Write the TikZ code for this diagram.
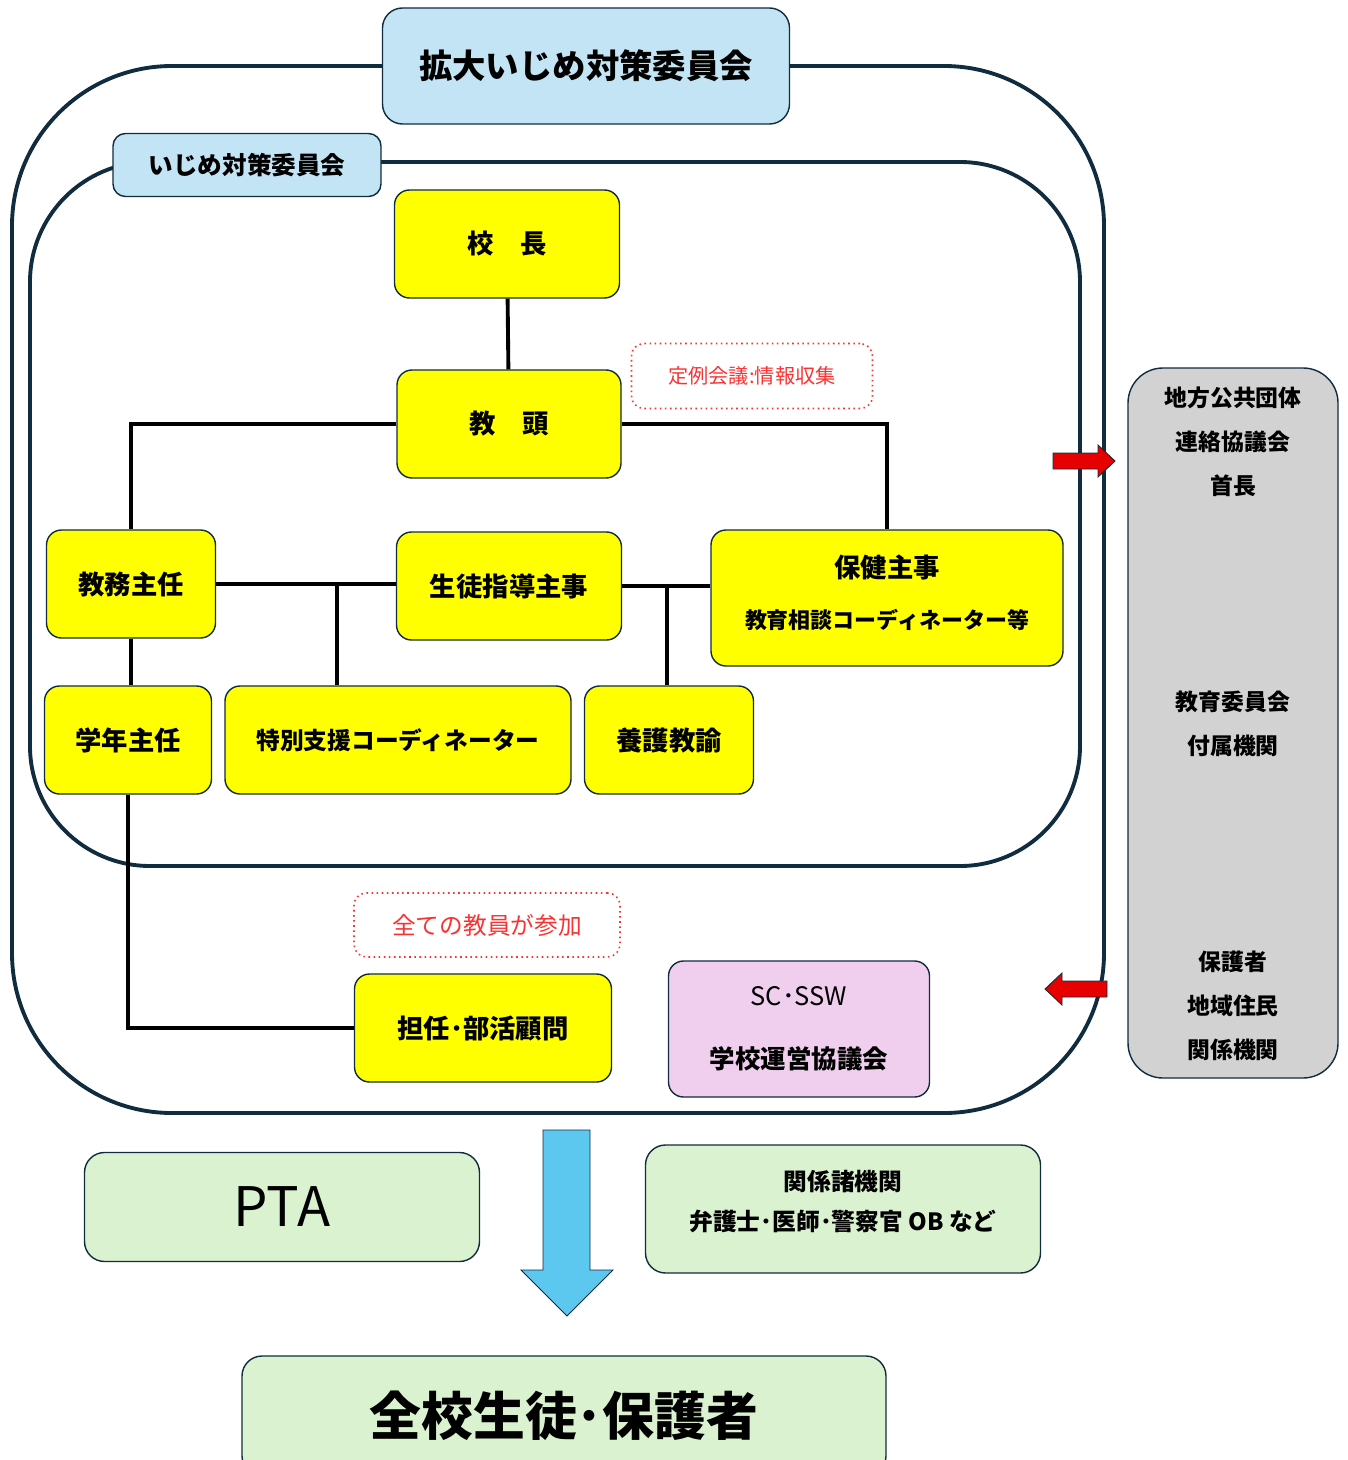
\documentclass[tikz,border=0pt]{standalone}
\usepackage{fontspec}
\setmainfont{Noto Sans CJK JP}
\usetikzlibrary{calc}

\definecolor{navy}{RGB}{16,44,62}
\definecolor{paleblue}{RGB}{194,228,244}
\definecolor{boxyellow}{RGB}{255,255,0}
\definecolor{palepink}{RGB}{240,206,238}
\definecolor{panelgray}{RGB}{210,210,210}
\definecolor{palegreen}{RGB}{218,242,208}
\definecolor{notered}{RGB}{250,50,50}
\definecolor{arrowred}{RGB}{230,0,0}
\definecolor{arrowblue}{RGB}{92,200,240}

\tikzset{
	frame/.style={draw=navy, line width=2.2pt},
	box/.style={draw=navy, line width=0.8pt, rounded corners=0.3cm, inner sep=0pt},
	posbox/.style={box, fill=boxyellow, font=\fontsize{15}{18}\selectfont\bfseries},
	titlebox/.style={box, fill=paleblue},
	greenbox/.style={box, fill=palegreen, rounded corners=0.4cm},
	notebox/.style={draw=notered, dotted, line width=0.9pt, rounded corners=0.25cm, text=notered},
	link/.style={line width=2.2pt, black},
	sz/.style 2 args={minimum width=#1*0.02cm, minimum height=#2*0.02cm},
}

\begin{document}
\begin{tikzpicture}[x=0.02cm, y=-0.02cm]
			%%%%% START %%%%%
			\useasboundingbox (0,0) rectangle (1347,1460);
			
			% committee frames
			\draw[frame, rounded corners=3.2cm] (12,66) rectangle (1104,1113);
			\draw[frame, rounded corners=2.4cm] (30,162) rectangle (1080,866);
			
			\node[titlebox, rounded corners=0.4cm, sz={407}{116}, font=\fontsize{19}{22}\selectfont\bfseries] (kakudai) at (586,66) {拡大いじめ対策委員会};
			\node[titlebox, rounded corners=0.25cm, sz={268}{63}, font=\fontsize{14}{16}\selectfont\bfseries] (iinkai) at (247,165) {いじめ対策委員会};
			
			% staff
			\node[posbox, sz={225}{108}] (kocho) at (507,244) {校　長};
			\node[posbox, sz={224}{108}] (kyoto) at (509,424) {教　頭};
			\node[notebox, sz={241}{65}, font=\fontsize{11.5}{14}\selectfont] (teirei) at (752,376) {定例会議:情報収集};
			
			\node[posbox, sz={169}{108}] (kyomu) at (131,584) {教務主任};
			\node[posbox, sz={225}{108}] (seito) at (509,586) {生徒指導主事};
			\node[posbox, sz={352}{136}, align=center, text depth=7pt, font=\fontsize{15}{29}\selectfont\bfseries] (hoken) at (887,598) {保健主事\\\fontsize{12.5}{29}\selectfont 教育相談コーディネーター等};
			
			\node[posbox, sz={167}{108}] (gakunen) at (128,740) {学年主任};
			\node[posbox, sz={346}{108}, font=\fontsize{13.5}{16}\selectfont\bfseries] (tokubetsu) at (398,740) {特別支援コーディネーター};
			\node[posbox, sz={169}{108}] (yogo) at (669,740) {養護教諭};
			
			\node[notebox, sz={266}{64}, font=\fontsize{13.5}{16}\selectfont] (zenin) at (487,925) {全ての教員が参加};
			\node[posbox, sz={257}{108}] (tannin) at (483,1028) {担任･部活顧問};
			\node[box, fill=palepink, sz={261}{136}, align=center, font=\fontsize{14.5}{36}\selectfont] (scssw) at (799,1029) {SC･SSW\\\bfseries 学校運営協議会};
			
			% links
			\draw[link] (kocho) -- (kyoto);
			\draw[link] (kyoto.west) -| (kyomu.north);
			\draw[link] (kyoto.east) -| (hoken.north);
			\draw[link] (kyomu.east) -- (kyomu.east -| seito.west);
			\coordinate (jct1) at (337,584);
			\draw[link] (jct1) -- (jct1 |- tokubetsu.north);
			\draw[link] (seito.east) -- (seito.east -| hoken.west);
			\coordinate (jct2) at (667,586);
			\draw[link] (jct2) -- (jct2 |- yogo.north);
			\draw[link] (kyomu.south) -- (kyomu.south |- gakunen.north);
			\draw[link] (gakunen.south) |- (tannin.west);
			
			% outside bodies
			\node[box, fill=panelgray, rounded corners=0.7cm, sz={210}{710}] (soto) at (1233,723) {};
			\node[align=center, font=\fontsize{13}{25}\selectfont\bfseries] (chiho) at (1233,442) {地方公共団体\\連絡協議会\\首長};
			\node[align=center, font=\fontsize{13}{25}\selectfont\bfseries] (kyoiku) at (1233,724) {教育委員会\\付属機関};
			\node[align=center, font=\fontsize{13}{25}\selectfont\bfseries] (chiiki) at (1233,1006) {保護者\\地域住民\\関係機関};
			
			\draw[fill=arrowred, draw=navy, line width=0.5pt] (1053,453) -- (1098,453) -- (1098,445) -- (1115,461) -- (1098,477) -- (1098,469) -- (1053,469) -- cycle;
			\draw[fill=arrowred, draw=navy, line width=0.5pt] (1107,981) -- (1062,981) -- (1062,973) -- (1045,989) -- (1062,1005) -- (1062,997) -- (1107,997) -- cycle;
			
			% to everyone
			\draw[fill=arrowblue, draw=navy, line width=0.5pt] (543,1130) -- (590,1130) -- (590,1270) -- (613,1270) -- (567,1316) -- (521,1270) -- (543,1270) -- cycle;
			
			\node[greenbox, sz={395}{109}, font=\fontsize{31}{36}\selectfont] (pta) at (282,1207) {PTA};
			\node[greenbox, sz={395}{128}, align=center, text depth=10pt, font=\fontsize{13.5}{23}\selectfont\bfseries] (shokikan) at (843,1209) {関係諸機関\\弁護士･医師･警察官 OB など};
			\node[greenbox, sz={644}{120}, font=\fontsize{29.5}{34}\selectfont\bfseries] (zenko) at (564,1416) {全校生徒･保護者};
			
			%%%%% END %%%%%
		\end{tikzpicture}
\end{document}
